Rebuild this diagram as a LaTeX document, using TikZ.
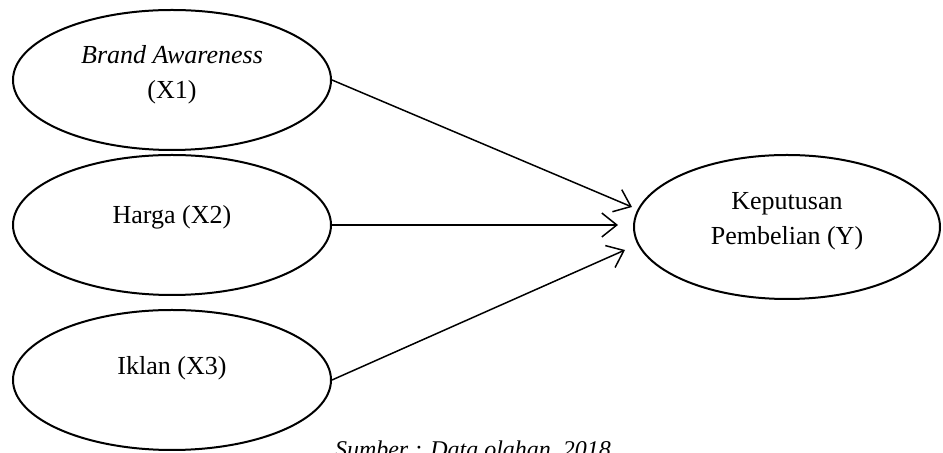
\documentclass[tikz,border=0pt]{standalone}
\usepackage{fontspec}
\setmainfont{Liberation Serif}
\usetikzlibrary{shapes.geometric,arrows.meta}
\begin{document}
\begin{tikzpicture}[x=0.5pt,y=-0.5pt,
  varbox/.style={draw,ellipse,line width=1pt,inner sep=0pt,minimum width=159pt,minimum height=70pt},
  lbl/.style={font=\fontsize{13}{17.5}\selectfont,align=center,inner sep=0pt},
  conn/.style={line width=0.75pt,-{Straight Barb[length=7.5pt,width=12pt,line width=0.75pt]}}]
\useasboundingbox (0,0) rectangle (943,453);
\node[varbox] (x1) at (172,80) {};
\node[varbox] (x2) at (172,225) {};
\node[varbox] (x3) at (172,380) {};
\node[varbox,minimum width=153pt,minimum height=72pt] (y) at (787,227) {};
\node[lbl] (t1) at (172,75) {\textit{Brand Awareness}\\(X1)};
\node[lbl] (t2) at (172,217) {Harga (X2)};
\node[lbl] (t3) at (172,368) {Iklan (X3)};
\node[lbl] (ty) at (787,221) {Keputusan\\Pembelian (Y)};
\coordinate (e1) at (632,207);
\coordinate (e2) at (618,225);
\coordinate (e3) at (625,250);
\draw[conn] (x1.east) -- (e1);
\draw[conn] (x2.east) -- (e2);
\draw[conn] (x3.east) -- (e3);
\node[lbl,font=\fontsize{12}{14}\selectfont\itshape,anchor=base] (src) at (473,458) {Sumber : Data olahan, 2018};
\end{tikzpicture}
\end{document}
